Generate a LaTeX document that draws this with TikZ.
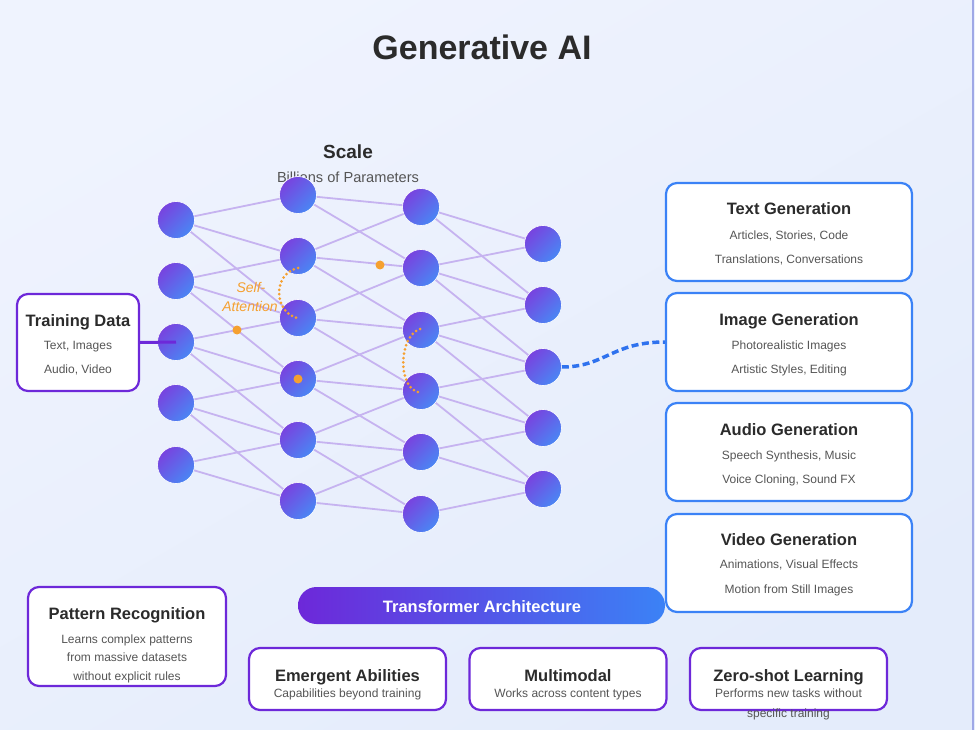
\documentclass[tikz,border=0pt]{standalone}
\usepackage{fontspec}
\setmainfont{Liberation Sans}
\pgfdeclarelayer{back}
\pgfdeclarelayer{edges}
\pgfsetlayers{back,edges,main}
\definecolor{bgA}{HTML}{EFF3FE}
\definecolor{bgB}{HTML}{E4ECFB}
\definecolor{purp}{HTML}{6D28D9}
\definecolor{blu}{HTML}{3B82F6}
\definecolor{dashblu}{HTML}{2F72EE}
\definecolor{nA}{HTML}{7843DF}
\definecolor{nB}{HTML}{4A86F4}
\definecolor{edgec}{HTML}{C6B3F0}
\definecolor{orng}{HTML}{F5A030}
\definecolor{txtdark}{HTML}{2B2B2B}
\definecolor{txtgray}{HTML}{555555}
\definecolor{rimc}{HTML}{9FA8E6}
\begin{document}
\begin{tikzpicture}[x=1pt,y=-1pt,
  neuron/.style={circle, minimum size=37, inner sep=0, top color=nA, bottom color=nB, shading angle=45, draw=white, line width=0.6},
  edge/.style={draw=edgec, line width=1.8},
  ttl/.style={font=\fontsize{16.5}{20}\selectfont\bfseries, text=txtdark, anchor=base, inner sep=0},
  sub/.style={font=\fontsize{12}{14}\selectfont, text=txtgray, anchor=base, inner sep=0},
  pbox/.style={draw=purp, line width=2.2, fill=white, rounded corners=11, inner sep=0},
  bbox/.style={draw=blu, line width=2.2, fill=white, rounded corners=11, inner sep=0},
  odot/.style={fill=orng, circle, inner sep=0, minimum size=9},
  att/.style={draw=orng, line width=3, line cap=round, dash pattern=on 0pt off 4.4pt}
]
\begin{pgfonlayer}{back}
\useasboundingbox (0,0) rectangle (975,730);
\shade[top color=bgA, bottom color=bgB, shading angle=30] (0,0) rectangle (975,730);
\draw[rimc, line width=2] (972.5,0) -- (972.5,730);
\end{pgfonlayer}

% title
\node[anchor=base, inner sep=0, font=\fontsize{34}{40}\selectfont\bfseries, text=txtdark] (title) at (482,60) {Generative AI};
\node[anchor=base, inner sep=0, font=\fontsize{19}{22}\selectfont\bfseries, text=txtdark] (scale) at (348,159) {Scale};
\node[anchor=base, inner sep=0, font=\fontsize{14.6}{17}\selectfont, text=txtgray] (scalesub) at (348,182.5) {Billions of Parameters};

% neurons
\foreach \i/\y in {0/220,1/281,2/342,3/403,4/465} \node[neuron] (a\i) at (176,\y) {};
\foreach \i/\y in {0/195,1/256,2/318,3/379,4/440,5/501} \node[neuron] (b\i) at (298,\y) {};
\foreach \i/\y in {0/207,1/268,2/330,3/391,4/452,5/514} \node[neuron] (c\i) at (421,\y) {};
\foreach \i/\y in {0/244,1/305,2/367,3/428,4/489} \node[neuron] (d\i) at (543,\y) {};

\begin{pgfonlayer}{edges}
\foreach \i in {0,...,4} \foreach \k in {0,1,2} {
  \pgfmathtruncatemacro\j{\i+\k}
  \ifnum\j>5 \else \draw[edge] (a\i.center) -- (b\j.center); \fi
}
\foreach \i in {0,...,5} \foreach \k in {-1,0,1} {
  \pgfmathtruncatemacro\j{\i+\k}
  \ifnum\j<0 \else \ifnum\j>5 \else \draw[edge] (b\i.center) -- (c\j.center); \fi\fi
}
\foreach \i in {0,...,5} \foreach \k in {-1,0,1} {
  \pgfmathtruncatemacro\j{\i+\k}
  \ifnum\j<0 \else \ifnum\j>4 \else \draw[edge] (c\i.center) -- (d\j.center); \fi\fi
}
\end{pgfonlayer}

% orange dots and attention arcs
\node[odot] (o1) at (237,330) {};
\node[odot] (o2) at (380,265) {};
\node[odot] (o3) at (b3.center) {};
\coordinate (s1) at (298,268);
\coordinate (e1) at (297,318);
\coordinate (s2) at (420,329);
\coordinate (e2) at (418,392);
\draw[att] (s1) .. controls (272,274) and (274,312) .. (e1);
\draw[att] (s2) .. controls (399,336) and (397,386) .. (e2);
\node[anchor=base, inner sep=0, font=\fontsize{14}{16}\selectfont\itshape, text=orng] (sa1) at (251,293) {Self-};
\node[anchor=base, inner sep=0, font=\fontsize{14}{16}\selectfont\itshape, text=orng] (sa2) at (250,312) {Attention};

% training data
\node[pbox, minimum width=122, minimum height=97] (td) at (78,342.5) {};
\node[ttl] (tdt) at (78,326) {Training Data};
\node[sub] (tds1) at (78,349.5) {Text, Images};
\node[sub] (tds2) at (78,373.5) {Audio, Video};
\draw[purp, line width=3] (td.east) -- (a2.center);

% right boxes
\node[bbox, minimum width=246, minimum height=98] (tg) at (789,232) {};
\node[ttl] (tgt) at (789,215) {Text Generation};
\node[sub] (tgs1) at (789,239.5) {Articles, Stories, Code};
\node[sub] (tgs2) at (789,263.5) {Translations, Conversations};

\node[bbox, minimum width=246, minimum height=98] (ig) at (789,342) {};
\node[ttl] (igt) at (789,325) {Image Generation};
\node[sub] (igs1) at (789,349.5) {Photorealistic Images};
\node[sub] (igs2) at (789,373.5) {Artistic Styles, Editing};

\node[bbox, minimum width=246, minimum height=98] (ag) at (789,452) {};
\node[ttl] (agt) at (789,435) {Audio Generation};
\node[sub] (ags1) at (789,459.5) {Speech Synthesis, Music};
\node[sub] (ags2) at (789,483.5) {Voice Cloning, Sound FX};

% transformer pill
\node[rounded corners=18.5, minimum width=367, minimum height=37, inner sep=0, left color=purp, right color=blu] (tr) at (481.5,605.5) {};
\node[anchor=base, inner sep=0, font=\fontsize{16.5}{20}\selectfont\bfseries, text=white] (trt) at (482,612) {Transformer Architecture};

\node[bbox, minimum width=246, minimum height=98] (vg) at (789,563) {};
\node[ttl] (vgt) at (789,545) {Video Generation};
\node[sub] (vgs1) at (789,568.5) {Animations, Visual Effects};
\node[sub] (vgs2) at (789,593.5) {Motion from Still Images};

\draw[dashblu, line width=3.5, dash pattern=on 7pt off 3.5pt] (d2.east) .. controls (605,367) and (612,342) .. (ig.west);

% bottom boxes
\node[pbox, minimum width=198, minimum height=99] (pr) at (127,636.5) {};
\node[ttl] (prt) at (127,619) {Pattern Recognition};
\node[sub] (prs1) at (127,643.5) {Learns complex patterns};
\node[sub] (prs2) at (127,661.5) {from massive datasets};
\node[sub] (prs3) at (127,680.5) {without explicit rules};

\node[pbox, minimum width=197, minimum height=62] (ea) at (347.5,679) {};
\node[ttl] (eat) at (347.5,681) {Emergent Abilities};
\node[sub] (eas) at (347.5,697.5) {Capabilities beyond training};

\node[pbox, minimum width=197, minimum height=62] (mm) at (568,679) {};
\node[ttl] (mmt) at (568,681) {Multimodal};
\node[sub] (mms) at (568,697.5) {Works across content types};

\node[pbox, minimum width=197, minimum height=62] (zs) at (788.5,679) {};
\node[ttl] (zst) at (788.5,681) {Zero-shot Learning};
\node[sub] (zss1) at (788.5,697.5) {Performs new tasks without};
\node[sub] (zss2) at (788.5,717.5) {specific training};
\end{tikzpicture}
\end{document}
